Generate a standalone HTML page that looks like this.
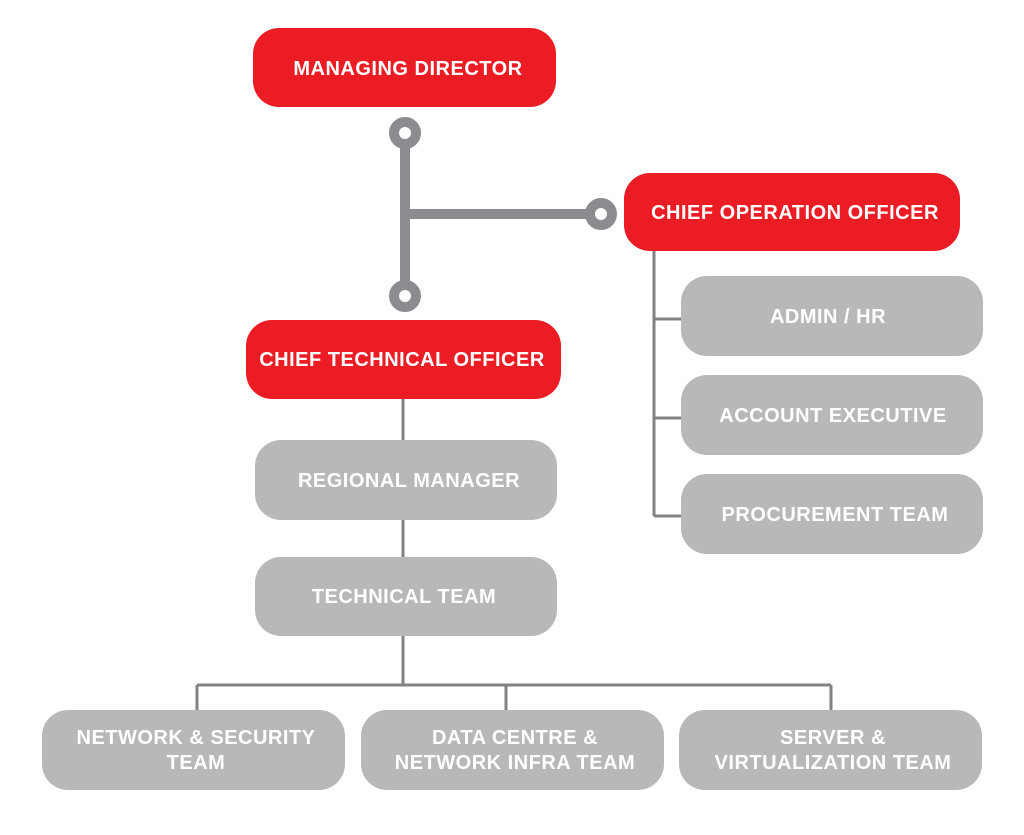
<!DOCTYPE html>
<html><head><meta charset="utf-8"><style>
html,body{margin:0;padding:0;background:#fff;}
svg{display:block;}
text{font-family:"Liberation Sans",Arial,sans-serif;font-weight:bold;fill:#fff;font-size:20px;letter-spacing:0.5px;text-anchor:middle;}
</style></head><body>
<svg width="1024" height="835" viewBox="0 0 1024 835" xmlns="http://www.w3.org/2000/svg">
<g stroke="#808285" stroke-width="3" fill="none">
<line x1="654" y1="250" x2="654" y2="516"/>
<line x1="654" y1="319" x2="682" y2="319"/>
<line x1="654" y1="418" x2="682" y2="418"/>
<line x1="654" y1="516" x2="682" y2="516"/>
<line x1="403" y1="398" x2="403" y2="685"/>
<line x1="197" y1="685" x2="831" y2="685"/>
<line x1="197" y1="685" x2="197" y2="711"/>
<line x1="506" y1="685" x2="506" y2="711"/>
<line x1="831" y1="685" x2="831" y2="711"/>
</g>
<g stroke="#8a8c8f" stroke-width="10" fill="none">
<line x1="405" y1="140" x2="405" y2="290"/>
<line x1="405" y1="214" x2="595" y2="214"/>
</g>
<g fill="#fff" stroke="#8a8c8f" stroke-width="10">
<circle cx="405" cy="133" r="11"/>
<circle cx="405" cy="296" r="11"/>
<circle cx="601" cy="214" r="11"/>
</g>
<g fill="#ec1c24">
<rect x="253" y="28" width="303" height="79" rx="26"/>
<rect x="624" y="173" width="336" height="78" rx="26"/>
<rect x="246" y="320" width="315" height="79" rx="26"/>
</g>
<g fill="#b8b8b8">
<rect x="681" y="276" width="302" height="80" rx="26"/>
<rect x="681" y="375" width="302" height="80" rx="26"/>
<rect x="681" y="474" width="302" height="80" rx="26"/>
<rect x="255" y="440" width="302" height="80" rx="26"/>
<rect x="255" y="557" width="302" height="79" rx="26"/>
<rect x="42" y="710" width="303" height="80" rx="26"/>
<rect x="361" y="710" width="303" height="80" rx="26"/>
<rect x="679" y="710" width="303" height="80" rx="26"/>
</g>
<text x="408" y="75">MANAGING DIRECTOR</text>
<text x="795" y="219">CHIEF OPERATION OFFICER</text>
<text x="402" y="366">CHIEF TECHNICAL OFFICER</text>
<text x="828" y="323">ADMIN  / HR</text>
<text x="833" y="422">ACCOUNT EXECUTIVE</text>
<text x="835" y="521">PROCUREMENT TEAM</text>
<text x="409" y="487">REGIONAL MANAGER</text>
<text x="404" y="603">TECHNICAL TEAM</text>
<text x="196" y="744">NETWORK &amp; SECURITY</text>
<text x="196" y="769">TEAM</text>
<text x="515" y="744">DATA CENTRE &amp;</text>
<text x="515" y="769">NETWORK INFRA TEAM</text>
<text x="833" y="744">SERVER &amp;</text>
<text x="833" y="769">VIRTUALIZATION TEAM</text>
</svg>
</body></html>
